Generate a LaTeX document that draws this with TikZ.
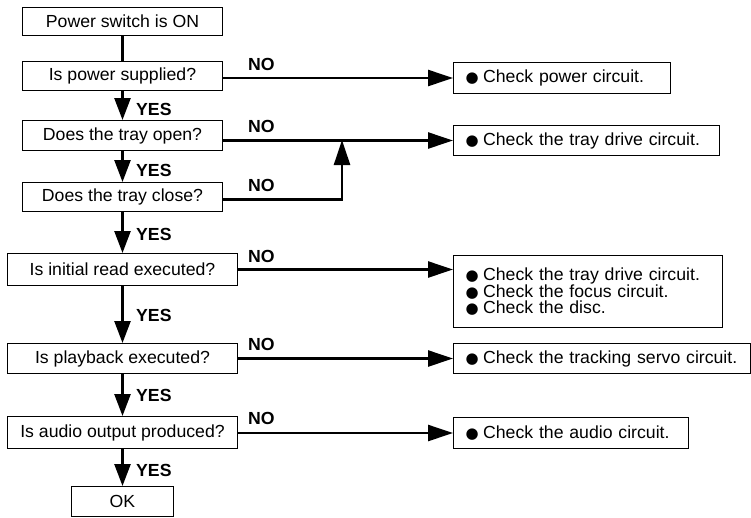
\documentclass[tikz,border=0pt]{standalone}
\usepackage{fontspec}
\setmainfont{Liberation Sans}[FakeStretch=1.01]
\newfontfamily\symfont{DejaVu Sans}
\usetikzlibrary{arrows.meta}
\newcommand{\bul}{{\symfont\fontsize{15}{15}\selectfont ●}\hspace{4.5pt}}
\begin{document}
\begin{tikzpicture}[x=1pt,y=-1pt,
  lbox/.style={draw, line width=1pt, inner sep=0pt, anchor=north west,
    font=\fontsize{17.5}{17}\selectfont, align=center},
  rbox/.style={draw, line width=1pt, inner xsep=12pt, inner ysep=0pt, anchor=north west,
    font=\fontsize{17.5}{16}\selectfont, align=left},
  lbl/.style={font=\bfseries\fontsize{17.5}{17}\selectfont, inner sep=0pt},
  conn/.style={line width=2.5pt},
  vdown/.style={conn, -{Triangle[length=22pt,width=16pt]}},
  hright/.style={conn, -{Triangle[length=25pt,width=16pt]}},
]
\useasboundingbox (0,0) rectangle (751,517);
% left column
\node[lbox, minimum width=200, minimum height=28] (s0) at (22,7) {Power switch is ON};
\node[lbox, minimum width=200, minimum height=29] (q1) at (22,61) {Is power supplied?};
\node[lbox, minimum width=200, minimum height=30] (q2) at (22,120) {Does the tray open?};
\node[lbox, minimum width=200, minimum height=29] (q3) at (22,182) {Does the tray close?};
\node[lbox, minimum width=230, minimum height=32] (q4) at (7,253) {Is initial read executed?};
\node[lbox, minimum width=230, minimum height=30] (q5) at (7,343) {Is playback executed?};
\node[lbox, minimum width=230, minimum height=32] (q6) at (7,416) {Is audio output produced?};
\node[lbox, minimum width=102, minimum height=30] (ok) at (71,486) {OK};
% right column
\node[rbox, text width=193, minimum height=31] (r1) at (453,62) {\mbox{\bul Check power circuit.}};
\node[rbox, text width=242, minimum height=30] (r2) at (453,125) {\mbox{\bul Check the tray drive circuit.}};
\node[rbox, text width=245, minimum height=72] (r3) at (453,255) {\mbox{\bul Check the tray drive circuit.}\\ \mbox{\bul Check the focus circuit.}\\ \mbox{\bul Check the disc.}};
\node[rbox, text width=273, minimum height=30] (r4) at (453,343) {\mbox{\bul Check the tracking servo circuit.}};
\node[rbox, text width=211, minimum height=31] (r5) at (453,417) {\mbox{\bul Check the audio circuit.}};
% vertical flow
\draw[conn] (s0.south) -- (q1.north);
\draw[vdown] (q1.south) -- (q2.north);
\draw[vdown] (q2.south) -- (q3.north);
\draw[vdown] (q3.south) -- (q4.north);
\draw[vdown] (q4.south) -- (q5.north);
\draw[vdown] (q5.south) -- (q6.north);
\draw[vdown] (q6.south) -- (ok.north);
% YES labels
\node[lbl, anchor=west] (y1) at (136,109) {YES};
\node[lbl, anchor=west] (y2) at (136,170) {YES};
\node[lbl, anchor=west] (y3) at (136,234) {YES};
\node[lbl, anchor=west] (y4) at (136,315) {YES};
\node[lbl, anchor=west] (y5) at (136,395) {YES};
\node[lbl, anchor=west] (y6) at (136,470) {YES};
% NO branches
\draw[hright] (q1.east |- r1.west) -- (r1.west);
\draw[hright] (q2.east |- r2.west) -- (r2.west);
\coordinate (j) at (342,140);
\draw[conn, -{Triangle[length=25pt,width=16pt]}] ([yshift=-2.5pt]q3.east) -| (j);
\draw[hright] (q4.east) -- (q4.east -| r3.west);
\draw[hright] (q5.east |- r4.west) -- (r4.west);
\draw[hright] (q6.east |- r5.west) -- (r5.west);
% NO labels
\node[lbl, anchor=south west] (n1) at (248,71) {NO};
\node[lbl, anchor=south west] (n2) at (248,133) {NO};
\node[lbl, anchor=south west] (n3) at (248,192) {NO};
\node[lbl, anchor=south west] (n4) at (248,263) {NO};
\node[lbl, anchor=south west] (n5) at (248,351) {NO};
\node[lbl, anchor=south west] (n6) at (248,425) {NO};
\end{tikzpicture}
\end{document}
